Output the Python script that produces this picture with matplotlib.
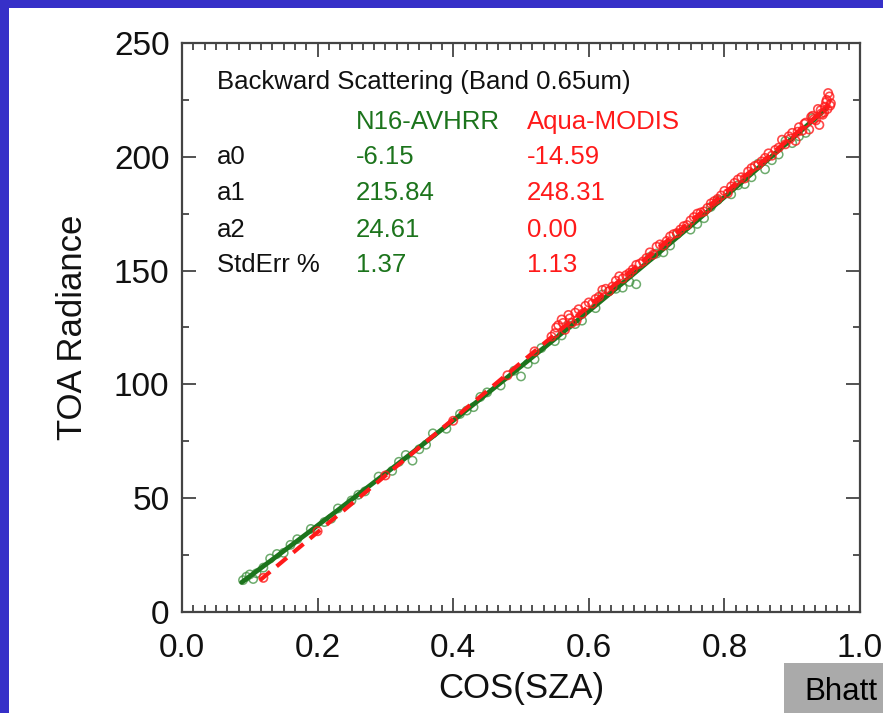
import matplotlib
matplotlib.use("Agg")
import matplotlib.pyplot as plt
import numpy as np
from matplotlib.patches import Rectangle
from matplotlib.ticker import AutoMinorLocator

plt.rcParams['font.family'] = ['Liberation Sans', 'DejaVu Sans']

# ---- data ----
sensors = ["N16-AVHRR", "Aqua-MODIS"]
coef_names = ["a0", "a1", "a2", "StdErr %"]
avhrr_coefs = ["-6.15", "215.84", "24.61", "1.37"]
modis_coefs = ["-14.59", "248.31", "0.00", "1.13"]
avhrr_fit = [-6.15, 215.84, 24.61]
modis_fit = [-14.59, 248.31, 0.00]
avhrr_range = [0.088, 0.95]
modis_range = [0.115, 0.955]

green_x = [0.09, 0.10, 0.11, 0.12, 0.13, 0.15, 0.17, 0.19, 0.21, 0.23, 0.25, 0.27,
           0.29, 0.31, 0.33, 0.35, 0.37, 0.39, 0.41, 0.43, 0.45, 0.47, 0.49, 0.51,
           0.53, 0.55, 0.57, 0.59, 0.61, 0.63, 0.65, 0.67, 0.69, 0.71, 0.73, 0.75,
           0.77, 0.79, 0.81, 0.83, 0.85, 0.87, 0.89, 0.91, 0.93,
           0.14, 0.22, 0.32, 0.36, 0.44, 0.52, 0.58, 0.62, 0.66, 0.72, 0.78, 0.84, 0.88, 0.92,
           0.095, 0.105, 0.16, 0.26, 0.34, 0.42, 0.50, 0.56, 0.64, 0.70, 0.76, 0.82, 0.86, 0.90]
green_y = [14.0, 16.5, 17.0, 19.5, 23.5, 26.0, 32.0, 36.5, 39.5, 45.5, 49.0, 53.0,
           59.5, 62.0, 69.0, 71.5, 78.5, 80.5, 87.0, 90.0, 96.5, 99.5, 106.0, 109.0,
           116.0, 119.0, 126.0, 128.0, 133.5, 141.0, 142.5, 144.0, 156.0, 158.0, 166.0, 168.0,
           173.0, 181.0, 183.5, 188.0, 197.0, 198.5, 207.0, 209.0, 217.0,
           25.5, 41.0, 66.0, 73.5, 94.5, 111.0, 126.5, 139.5, 145.0, 161.0, 178.0, 191.0, 201.0, 210.5,
           15.5, 14.5, 29.5, 51.5, 66.5, 88.5, 103.5, 121.5, 142.0, 157.5, 170.5, 187.5, 194.5, 206.0]

red_x = [0.55, 0.555, 0.56, 0.565, 0.57, 0.575, 0.58, 0.59, 0.60, 0.61, 0.62, 0.63,
         0.64, 0.65, 0.66, 0.67, 0.68, 0.69, 0.70, 0.71, 0.72, 0.73, 0.74, 0.75,
         0.76, 0.77, 0.78, 0.79, 0.80, 0.81, 0.82, 0.83, 0.84, 0.85, 0.86, 0.87,
         0.88, 0.885, 0.89, 0.895, 0.90, 0.905, 0.91, 0.915, 0.92, 0.925, 0.93, 0.935,
         0.94, 0.942, 0.945, 0.948, 0.95, 0.952, 0.955, 0.957, 0.953, 0.947, 0.938, 0.928,
         0.12, 0.20, 0.30, 0.40, 0.48, 0.52, 0.545, 0.585, 0.635, 0.675, 0.725, 0.765,
         0.552, 0.562, 0.572, 0.582, 0.595, 0.605, 0.615, 0.625, 0.645, 0.655, 0.665, 0.685,
         0.695, 0.705, 0.715, 0.735, 0.745, 0.755, 0.775, 0.785, 0.795, 0.805, 0.815, 0.825,
         0.835, 0.845, 0.855, 0.865, 0.875, 0.897, 0.908, 0.918, 0.932, 0.943, 0.951, 0.956]
red_y = [122.5, 126.0, 128.5, 124.0, 130.5, 127.0, 131.5, 131.0, 136.0, 137.5, 141.5, 141.0,
         145.5, 146.5, 149.0, 152.5, 154.0, 158.0, 160.5, 161.0, 165.0, 166.5, 169.5, 172.0,
         175.0, 176.0, 179.5, 181.5, 185.0, 187.0, 190.0, 190.5, 195.0, 196.5, 199.5, 200.5,
         204.0, 207.5, 205.5, 209.0, 210.5, 207.0, 213.0, 211.5, 215.0, 212.0, 218.0, 216.0,
         214.0, 220.5, 218.5, 222.0, 224.0, 221.0, 226.5, 223.5, 228.0, 219.5, 221.0, 217.5,
         15.0, 35.5, 60.0, 84.0, 104.0, 114.5, 121.0, 133.0, 143.0, 153.0, 166.0, 175.5,
         125.0, 127.0, 129.0, 128.0, 134.5, 135.5, 138.5, 142.0, 147.5, 148.0, 150.5, 155.5,
         157.0, 161.5, 163.0, 168.0, 170.0, 173.5, 177.5, 180.5, 183.0, 184.0, 188.5, 191.0,
         193.5, 196.0, 198.0, 201.5, 203.0, 208.0, 211.0, 214.5, 216.5, 219.0, 225.0, 222.5]

x_ticks = [0.0, 0.2, 0.4, 0.6, 0.8, 1.0]
x_ticklabels = ["0.0", "0.2", "0.4", "0.6", "0.8", "1.0"]
y_ticks = [0, 50, 100, 150, 200, 250]
y_ticklabels = ["0", "50", "100", "150", "200", "250"]

title_text = "Backward Scattering (Band 0.65um)"
credit = "Bhatt"

GREEN = "#1c741c"
GREEN_PT = "#3c8f3c"
RED = "#ff1a1a"

W, H = 883, 713
fig = plt.figure(figsize=(W / 100, H / 100), dpi=100)
fig.patch.set_facecolor("#3630c8")
# white panel
fig.patches.append(Rectangle((9 / W, 0), 1 - 9 / W, 1 - 8 / H, transform=fig.transFigure,
                             facecolor="white", edgecolor="none", zorder=-10))

ax = fig.add_axes([182 / W, 1 - 612 / H, (860 - 182) / W, (612 - 43) / H])
ax.set_facecolor("white")

ax.scatter(green_x, green_y, s=36, facecolors="none", edgecolors=GREEN_PT,
           linewidths=1.1, alpha=0.75, zorder=2)
xg = np.linspace(avhrr_range[0], avhrr_range[1], 200)
ax.plot(xg, avhrr_fit[0] + avhrr_fit[1] * xg + avhrr_fit[2] * xg ** 2,
        color=GREEN, lw=3.4, zorder=3, solid_capstyle="round")
ax.scatter(red_x, red_y, s=36, facecolors="none", edgecolors=RED,
           linewidths=1.2, alpha=0.8, zorder=4)
xr = np.linspace(modis_range[0], modis_range[1], 200)
ax.plot(xr, modis_fit[0] + modis_fit[1] * xr + modis_fit[2] * xr ** 2,
        color=RED, lw=3.0, dashes=(3.2, 2.0), zorder=5)

ax.set_xlim(0, 1)
ax.set_ylim(0, 250)
ax.set_xticks(x_ticks)
ax.set_xticklabels(x_ticklabels)
ax.set_yticks(y_ticks)
ax.set_yticklabels(y_ticklabels)
ax.xaxis.set_minor_locator(AutoMinorLocator(12))
ax.yaxis.set_minor_locator(AutoMinorLocator(2))
ax.tick_params(which="both", direction="in", top=True, right=True, color="#444444",
               width=1.3, labelsize=24, labelcolor="#111111")
ax.tick_params(which="major", length=10)
ax.tick_params(which="minor", length=5)
ax.tick_params(axis="x", which="major", pad=15)
ax.tick_params(axis="y", which="major", pad=9)
for sp in ax.spines.values():
    sp.set_color("#444444")
    sp.set_linewidth(1.6)

ax.set_xlabel("COS(SZA)", fontsize=25, color="#111111", labelpad=6)
ax.set_ylabel("TOA Radiance", fontsize=25, color="#111111", labelpad=18)

# annotation table (pixel positions converted to figure fraction)
def fx(px):
    return px / W

def fy(py):
    return 1 - py / H

fs = 18.5
fig.text(fx(217), fy(82), title_text, fontsize=fs, color="#111111", va="center", ha="left")
fig.text(fx(356), fy(122), sensors[0], fontsize=fs, color=GREEN, va="center", ha="left")
fig.text(fx(527), fy(122), sensors[1], fontsize=fs, color=RED, va="center", ha="left")
row_y = [157, 193, 230, 265]
for name, g, r, yy in zip(coef_names, avhrr_coefs, modis_coefs, row_y):
    fig.text(fx(217), fy(yy), name, fontsize=fs, color="#111111", va="center", ha="left")
    fig.text(fx(356), fy(yy), g, fontsize=fs, color=GREEN, va="center", ha="left")
    fig.text(fx(527), fy(yy), r, fontsize=fs, color=RED, va="center", ha="left")

# credit box
fig.patches.append(Rectangle((784 / W, 0), 1 - 784 / W, 50 / H, transform=fig.transFigure,
                             facecolor="#aaaaaa", edgecolor="none", zorder=5))
fig.text(fx(804), fy(692), credit, fontsize=22.5, color="black", va="center", ha="left", zorder=6)

fig.savefig("out.png", dpi=100)
